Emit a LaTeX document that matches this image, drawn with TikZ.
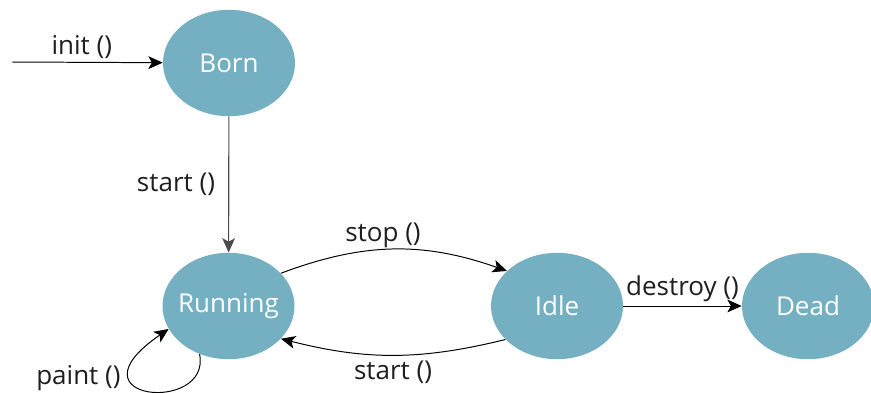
\documentclass[tikz,border=0pt]{standalone}
\usepackage{fontspec}
\setmainfont{Open Sans}
\usepackage{tikz}
\usetikzlibrary{arrows.meta,positioning,shapes.geometric}
\definecolor{statefill}{HTML}{74B0C1}
\definecolor{labeltext}{HTML}{1E1E1E}
\tikzset{
  >={Stealth[length=3.6mm,width=3.2mm,inset=0.9mm]},
  % tillstånd
  st/.style={ellipse,fill=statefill,draw=none,inner ysep=0pt,inner xsep=-1.2mm,
             minimum width=33mm,minimum height=26.6mm,
             text=white,font=\fontsize{18.5}{20}\selectfont},
  tr/.style={->,draw=black,line width=0.7pt},
  trg/.style={->,draw=black!70,line width=0.8pt},
  tl/.style={font=\fontsize{18.5}{20}\selectfont,text=labeltext,inner sep=2pt},
}
\begin{document}
\begin{tikzpicture}[x=0.25mm,y=-0.25mm]
\useasboundingbox (0,0) rectangle (871,392);
  \node[st] (born) at (229,63) {Born};
  \node[st] (run) at (228.5,306) {Running};
  \node[st] (idle) at (557,306) {Idle};
  \node[st] (dead) at (808,306) {Dead};
  \coordinate (entry) at (12,62);
  \draw[tr] (entry) -- node[tl,above=0pt,xshift=-4pt] {init ()} (born);
  \draw[trg] (born) -- node[tl,left=2.6mm] {start ()} (run);
  \draw[tr] (run.32) to[bend left=20] node[tl,above=-1pt,pos=0.45] {stop ()} (idle.145);
  \draw[tr] (idle.213) to[bend left=14] node[tl,below=2pt] {start ()} (run.328);
  \draw[tr] (idle) -- node[tl,above=1pt] {destroy ()} (dead);
  \draw[tr] (run.239) .. controls +(12,60) and +(-105,72) .. (run.201)
    node[tl,pos=0.72,left=5pt,yshift=-2pt] {paint ()};
\end{tikzpicture}
\end{document}
